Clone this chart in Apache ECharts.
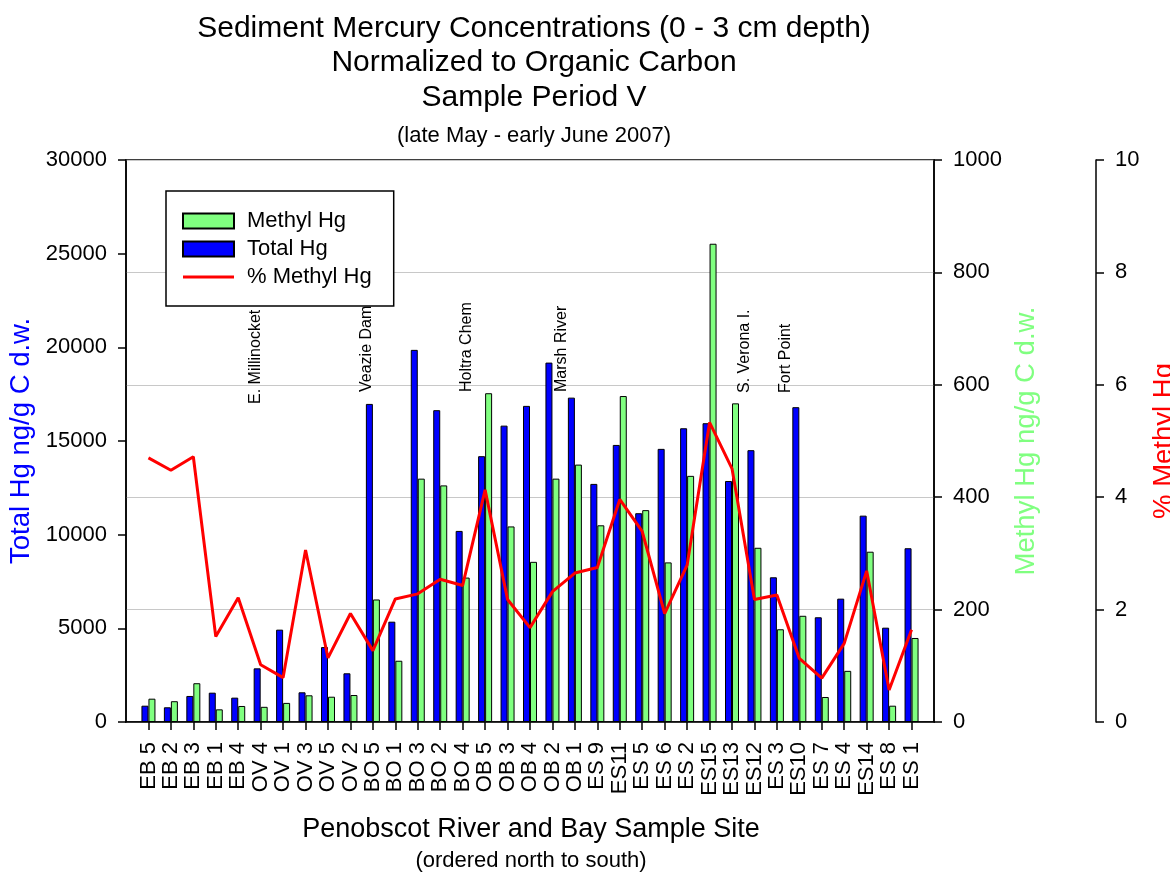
<!DOCTYPE html>
<html>
<head>
<meta charset="utf-8">
<script src="https://cdn.jsdelivr.net/npm/echarts@6/dist/echarts.min.js"></script>
<style>
html,body{margin:0;padding:0;background:#fff;}
#chart{width:1170px;height:873px;}
</style>
</head>
<body>
<div id="chart"></div>
<script>
const categories = ['EB 5','EB 2','EB 3','EB 1','EB 4','OV 4','OV 1','OV 3','OV 5','OV 2',
  'BO 5','BO 1','BO 3','BO 2','BO 4','OB 5','OB 3','OB 4','OB 2','OB 1',
  'ES 9','ES11','ES 5','ES 6','ES 2','ES15','ES13','ES12','ES 3','ES10',
  'ES 7','ES 4','ES14','ES 8','ES 1'];
const totalHg = [870, 785, 1390, 1565, 1300, 2865, 4930, 1585, 4000, 2600,
  16980, 5355, 19865, 16645, 10200, 14190, 15820, 16875, 19185, 17315,
  12710, 14790, 11145, 14580, 15680, 15950, 12865, 14510, 7725, 16805,
  5590, 6585, 11015, 5035, 9275];
const methylHg = [41.5, 37, 69, 22.5, 28.5, 27, 34, 47.5, 45, 48,
  218, 109, 433, 421, 257, 585, 348, 285, 433, 458,
  350, 580, 377, 284, 438, 851, 567, 310, 165, 189,
  44.5, 91, 303, 29, 149.5];
const pctMethyl = [4.70, 4.48, 4.72, 1.52, 2.21, 1.02, 0.79, 3.06, 1.14, 1.93,
  1.27, 2.19, 2.28, 2.54, 2.43, 4.13, 2.18, 1.68, 2.32, 2.65,
  2.75, 3.96, 3.39, 1.93, 2.79, 5.33, 4.51, 2.18, 2.26, 1.13,
  0.78, 1.40, 2.69, 0.57, 1.64];
const totalTicks = [0, 5000, 10000, 15000, 20000, 25000, 30000];
const methylTicks = [0, 200, 400, 600, 800, 1000];
const pctTicks = [0, 2, 4, 6, 8, 10];
// site annotations: [label, position in category units, Total Hg value at text bottom]
const annotations = [
  ['E. Millinocket', 4.77, 16975],
  ['Veazie Dam', 9.72, 17615],
  ['Holtra Chem', 14.18, 17615],
  ['Marsh River', 18.40, 17615],
  ['S. Verona I.', 26.58, 17560],
  ['Fort Point', 28.40, 17560]
];

const FONT = '"Liberation Sans", Arial, Helvetica, sans-serif';
const pad = arr => [null].concat(arr, [null]);
const padCats = [''].concat(categories, ['']);
const N = padCats.length;
const plain = v => String(v);

const chart = echarts.init(document.getElementById('chart'), null, {renderer: 'canvas'});
const axisLineStyle = {color: '#000', width: 1.5};

const option = {
  animation: false,
  backgroundColor: '#fff',
  textStyle: {fontFamily: FONT},
  title: [
    {text: 'Sediment Mercury Concentrations (0 - 3 cm depth)\nNormalized to Organic Carbon\nSample Period V',
     left: 534, top: 11, textAlign: 'center', padding: 0,
     textStyle: {fontSize: 30, fontWeight: 'normal', lineHeight: 34.5, color: '#000', fontFamily: FONT}},
    {text: '(late May - early June 2007)', left: 534, top: 125, textAlign: 'center', padding: 0,
     textStyle: {fontSize: 22, fontWeight: 'normal', color: '#000', fontFamily: FONT}},
    {text: 'Penobscot River and Bay Sample Site', left: 531, top: 816, textAlign: 'center', padding: 0,
     textStyle: {fontSize: 27, fontWeight: 'normal', color: '#000', fontFamily: FONT}},
    {text: '(ordered north to south)', left: 531, top: 850, textAlign: 'center', padding: 0,
     textStyle: {fontSize: 22, fontWeight: 'normal', color: '#000', fontFamily: FONT}}
  ],
  legend: {
    orient: 'vertical', left: 166, top: 191,
    data: [
      {name: 'Methyl Hg', icon: 'rect'},
      {name: 'Total Hg', icon: 'rect'},
      {name: '% Methyl Hg', icon: 'path://M0,0 L51,0 L51,3 L0,3 Z'}
    ],
    itemWidth: 51, itemHeight: 15, itemGap: 6,
    padding: [19, 22, 18, 16],
    borderColor: '#000', borderWidth: 1.5, backgroundColor: '#fff',
    selectedMode: false,
    textStyle: {fontSize: 22, color: '#000', fontFamily: FONT, padding: [0, 0, 0, 8]}
  },
  grid: {left: 126, right: 236, top: 160, bottom: 151, show: true, containLabel: false,
         outerBoundsMode: 'none',
         borderColor: '#000', borderWidth: 1.5, backgroundColor: 'transparent'},
  xAxis: {
    type: 'category', data: padCats, boundaryGap: false,
    axisLine: {show: true, lineStyle: axisLineStyle},
    axisTick: {show: true, length: 8, lineStyle: axisLineStyle,
               interval: (idx) => idx > 0 && idx < N - 1},
    axisLabel: {interval: 0, rotate: 90, fontSize: 22, color: '#000', margin: 20, fontFamily: FONT, hideOverlap: false},
    splitLine: {show: false}
  },
  yAxis: [
    {type: 'value', min: totalTicks[0], max: totalTicks[totalTicks.length - 1], interval: totalTicks[1] - totalTicks[0],
     position: 'left', name: 'Total Hg ng/g C d.w.', nameLocation: 'middle', nameGap: 89, nameRotate: 90,
     nameTextStyle: {color: '#0000ff', fontSize: 27.5, fontFamily: FONT},
     axisLine: {show: true, lineStyle: axisLineStyle},
     axisTick: {show: true, length: 8, lineStyle: axisLineStyle},
     axisLabel: {fontSize: 22, color: '#000', margin: 19, fontFamily: FONT, formatter: plain},
     splitLine: {show: false}},
    {type: 'value', min: methylTicks[0], max: methylTicks[methylTicks.length - 1], interval: methylTicks[1] - methylTicks[0],
     position: 'right', name: 'Methyl Hg ng/g C d.w.', nameLocation: 'middle', nameGap: 73, nameRotate: 90,
     nameTextStyle: {color: '#80ff80', fontSize: 27.5, fontFamily: FONT},
     axisLine: {show: true, lineStyle: axisLineStyle},
     axisTick: {show: true, length: 8, lineStyle: axisLineStyle},
     axisLabel: {fontSize: 22, color: '#000', margin: 19, fontFamily: FONT, formatter: plain},
     splitLine: {show: true, lineStyle: {color: '#c8c8c8', width: 1}}},
    {type: 'value', min: pctTicks[0], max: pctTicks[pctTicks.length - 1], interval: pctTicks[1] - pctTicks[0],
     position: 'right', offset: 162, name: '% Methyl Hg', nameLocation: 'middle', nameGap: 49, nameRotate: 90,
     nameTextStyle: {color: '#ff0000', fontSize: 27.5, fontFamily: FONT},
     axisLine: {show: true, lineStyle: axisLineStyle},
     axisTick: {show: true, length: 8, lineStyle: axisLineStyle},
     axisLabel: {fontSize: 22, color: '#000', margin: 19, fontFamily: FONT, formatter: plain},
     splitLine: {show: false}}
  ],
  series: [
    {name: 'Total Hg', type: 'bar', yAxisIndex: 0, data: pad(totalHg),
     barWidth: 7, barGap: '0%',
     itemStyle: {color: '#0000ff', borderColor: '#000', borderWidth: 1}},
    {name: 'Methyl Hg', type: 'bar', yAxisIndex: 1, data: pad(methylHg),
     barWidth: 7, barGap: '0%',
     itemStyle: {color: '#80ff80', borderColor: '#000', borderWidth: 1}},
    {name: '% Methyl Hg', type: 'line', yAxisIndex: 2, data: pad(pctMethyl),
     symbol: 'none', z: 5, connectNulls: false,
     lineStyle: {color: '#ff0000', width: 3}, itemStyle: {color: '#ff0000'}}
  ]
};
chart.setOption(option);

// place site annotations using the axes' own scales
const x1 = chart.convertToPixel({xAxisIndex: 0}, 1);
const x2 = chart.convertToPixel({xAxisIndex: 0}, 2);
const band = x2 - x1;
chart.setOption({
  graphic: annotations.map(a => ({
    type: 'text',
    x: x1 + a[1] * band,
    y: chart.convertToPixel({yAxisIndex: 0}, a[2]),
    rotation: Math.PI / 2,
    z: 10,
    style: {text: a[0], fontSize: 16, fontFamily: FONT, fill: '#000',
            textAlign: 'left', textVerticalAlign: 'middle'}
  }))
});
</script>
</body>
</html>
